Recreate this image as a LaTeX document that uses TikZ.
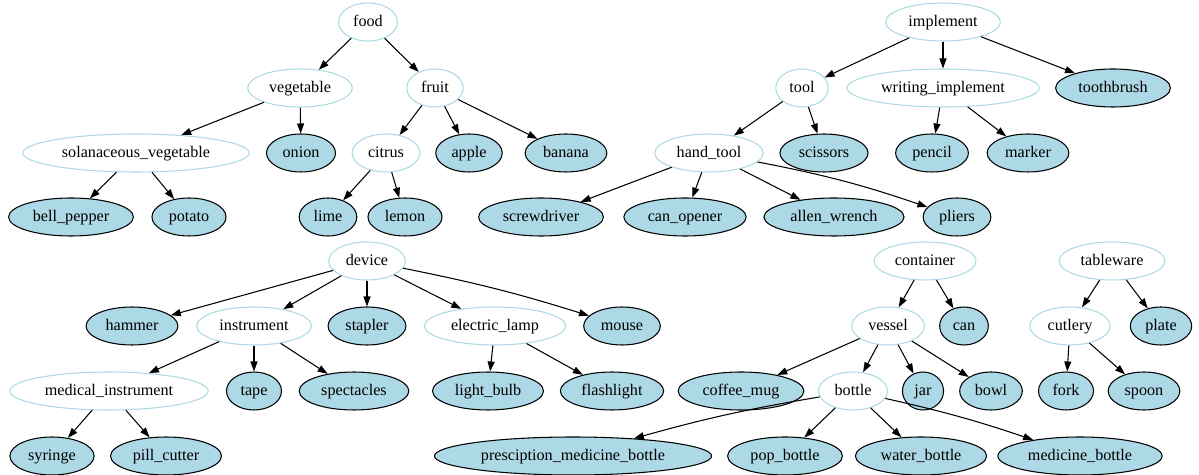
\documentclass[tikz,border=0pt]{standalone}
\usepackage{fontspec}
\setmainfont{Liberation Serif}
\usetikzlibrary{shapes.geometric,arrows.meta}
\definecolor{lblue}{RGB}{173,216,230}
\begin{document}
\begin{tikzpicture}[x=0.02cm, y=-0.02cm, line width=0.6pt, >={Triangle[length=0.2cm,width=0.14cm]},
  inner node/.style={ellipse,draw=lblue,fill=white,minimum height=0.76cm,minimum width=0.8cm,inner xsep=0.12cm,inner ysep=0.5pt,text height=0.68em,text depth=0.2em,font=\fontsize{9.2}{11}\selectfont},
  leaf node/.style={inner node,draw=black,fill=lblue}]
\useasboundingbox (0,0) rectangle (1199,475);
% upper trees
\node[inner node] (food) at (368,22) {food};
\node[inner node] (veg) at (300,88) {vegetable};
\node[inner node] (fruit) at (435,88) {fruit};
\node[inner node] (solveg) at (136,153) {solanaceous\_vegetable};
\node[leaf node] (onion) at (301,153) {onion};
\node[inner node] (citrus) at (386,153) {citrus};
\node[leaf node] (apple) at (469,153) {apple};
\node[leaf node] (banana) at (566,153) {banana};
\node[leaf node] (bell) at (71,217) {bell\_pepper};
\node[leaf node] (potato) at (189,217) {potato};
\node[leaf node] (lime) at (328,217) {lime};
\node[leaf node] (lemon) at (405,217) {lemon};
\node[inner node] (impl) at (943,22) {implement};
\node[inner node] (tool) at (802,88) {tool};
\node[inner node] (writ) at (943,88) {writing\_implement};
\node[leaf node] (brush) at (1113,88) {toothbrush};
\node[inner node] (hand) at (709,153) {hand\_tool};
\node[leaf node] (scissors) at (824,153) {scissors};
\node[leaf node] (pencil) at (932,153) {pencil};
\node[leaf node] (marker) at (1028,153) {marker};
\node[leaf node] (screw) at (541,217) {screwdriver};
\node[leaf node] (opener) at (685,217) {can\_opener};
\node[leaf node] (allen) at (834,217) {allen\_wrench};
\node[leaf node] (pliers) at (957,217) {pliers};
% lower trees
\node[inner node] (device) at (367,261) {device};
\node[leaf node] (hammer) at (132,326) {hammer};
\node[inner node] (instr) at (254,326) {instrument};
\node[leaf node] (stapler) at (367,326) {stapler};
\node[inner node] (lamp) at (495,326) {electric\_lamp};
\node[leaf node] (mouse) at (622,326) {mouse};
\node[inner node] (medinstr) at (109,391) {medical\_instrument};
\node[leaf node] (tape) at (254,391) {tape};
\node[leaf node] (spect) at (354,391) {spectacles};
\node[leaf node] (bulb) at (488,391) {light\_bulb};
\node[leaf node] (flash) at (612,391) {flashlight};
\node[leaf node] (syringe) at (52,456) {syringe};
\node[leaf node] (pill) at (166,456) {pill\_cutter};
\node[inner node] (cont) at (925,261) {container};
\node[inner node] (vessel) at (888,326) {vessel};
\node[leaf node] (can) at (964,326) {can};
\node[leaf node] (mug) at (741,391) {coffee\_mug};
\node[inner node] (bottle) at (853,391) {bottle};
\node[leaf node] (jar) at (923,391) {jar};
\node[leaf node] (bowl) at (991,391) {bowl};
\node[leaf node] (presc) at (573,456) {presciption\_medicine\_bottle};
\node[leaf node] (pop) at (785,456) {pop\_bottle};
\node[leaf node] (water) at (921,456) {water\_bottle};
\node[leaf node] (medb) at (1080,456) {medicine\_bottle};
\node[inner node] (table) at (1112,261) {tableware};
\node[inner node] (cutlery) at (1070,326) {cutlery};
\node[leaf node] (plate) at (1161,326) {plate};
\node[leaf node] (fork) at (1066,391) {fork};
\node[leaf node] (spoon) at (1144,391) {spoon};

\draw [->] (food) edge (veg);
\draw [->] (food) edge (fruit);
\draw [->] (veg) edge (solveg);
\draw [->] (veg) edge (onion);
\draw [->] (fruit) edge (citrus);
\draw [->] (fruit) edge (apple);
\draw [->] (fruit) edge (banana);
\draw [->] (solveg) edge (bell);
\draw [->] (solveg) edge (potato);
\draw [->] (citrus) edge (lime);
\draw [->] (citrus) edge (lemon);
\draw [->] (impl) edge (tool);
\draw [->] (impl) edge (writ);
\draw [->] (impl) edge (brush);
\draw [->] (tool) edge (hand);
\draw [->] (tool) edge (scissors);
\draw [->] (writ) edge (pencil);
\draw [->] (writ) edge (marker);
\draw [->] (hand) edge (screw);
\draw [->] (hand) edge (opener);
\draw [->] (hand) edge (allen);
\draw [->] (hand) edge[bend left=4] (pliers);
\draw [->] (device) edge (hammer);
\draw [->] (device) edge (instr);
\draw [->] (device) edge (stapler);
\draw [->] (device) edge (lamp);
\draw [->] (device) edge[bend left=3] (mouse);
\draw [->] (instr) edge (medinstr);
\draw [->] (instr) edge (tape);
\draw [->] (instr) edge (spect);
\draw [->] (lamp) edge (bulb);
\draw [->] (lamp) edge (flash);
\draw [->] (medinstr) edge (syringe);
\draw [->] (medinstr) edge (pill);
\draw [->] (cont) edge (vessel);
\draw [->] (cont) edge (can);
\draw [->] (vessel) edge (mug);
\draw [->] (vessel) edge (bottle);
\draw [->] (vessel) edge (jar);
\draw [->] (vessel) edge (bowl);
\draw [->] (bottle) edge[bend right=3] (presc);
\draw [->] (bottle) edge (pop);
\draw [->] (bottle) edge (water);
\draw [->] (bottle) edge[bend left=3] (medb);
\draw [->] (table) edge (cutlery);
\draw [->] (table) edge (plate);
\draw [->] (cutlery) edge (fork);
\draw [->] (cutlery) edge (spoon);
\end{tikzpicture}
\end{document}
